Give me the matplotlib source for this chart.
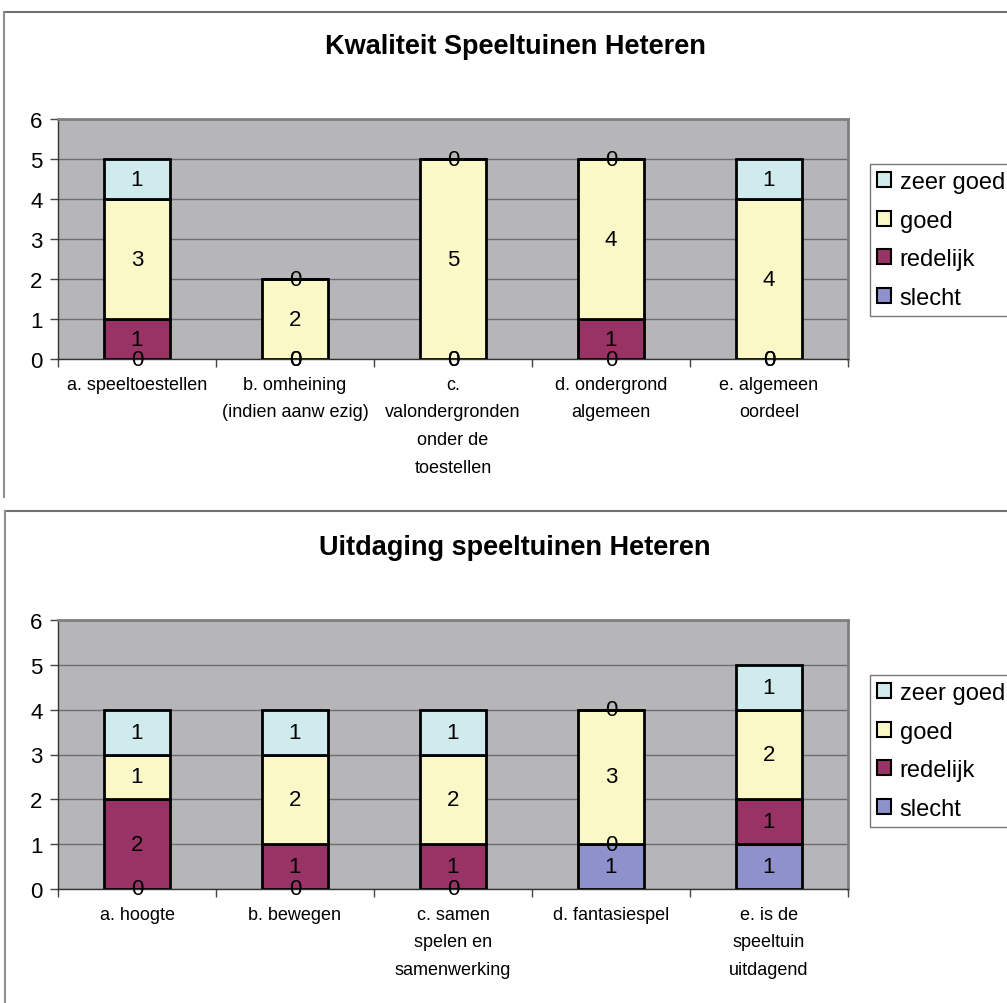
import numpy as np
import matplotlib
matplotlib.use('Agg')
import matplotlib.pyplot as plt
from matplotlib.patches import Patch
from matplotlib.lines import Line2D

plt.rcParams['font.family'] = ['Liberation Sans', 'DejaVu Sans']

series = ['slecht', 'redelijk', 'goed', 'zeer goed']
colors = ['#8E91CB', '#993366', '#FBF8C8', '#D0EBED']

title_top = 'Kwaliteit Speeltuinen Heteren'
cats_top = ['a. speeltoestellen', 'b. omheining\n(indien aanw ezig)',
            'c.\nvalondergronden\nonder de\ntoestellen',
            'd. ondergrond\nalgemeen', 'e. algemeen\noordeel']
slecht_top = [0, 0, 0, 0, 0]
redelijk_top = [1, 0, 0, 1, 0]
goed_top = [3, 2, 5, 4, 4]
zeergoed_top = [1, 0, 0, 0, 1]

title_bot = 'Uitdaging speeltuinen Heteren'
cats_bot = ['a. hoogte', 'b. bewegen', 'c. samen\nspelen en\nsamenwerking',
            'd. fantasiespel', 'e. is de\nspeeltuin\nuitdagend']
slecht_bot = [0, 0, 0, 1, 1]
redelijk_bot = [2, 1, 1, 0, 1]
goed_bot = [1, 2, 2, 3, 2]
zeergoed_bot = [1, 1, 1, 0, 1]

W, H = 1007, 1004
fig = plt.figure(figsize=(W / 100, H / 100), dpi=100)


def px_axes(left, top, right, bottom):
    return fig.add_axes([left / W, 1 - bottom / H, (right - left) / W, (bottom - top) / H])


def draw_chart(ax, cats, data, title, title_y, legend_top):
    x = np.arange(len(cats))
    bottom = np.zeros(len(cats))
    for name, vals, col in zip(series, data, colors):
        vals = np.array(vals, dtype=float)
        ax.bar(x, vals, 0.42, bottom=bottom, color=col, edgecolor='black',
               linewidth=2, zorder=3)
        for xi, b, v in zip(x, bottom, vals):
            ax.text(xi, b + v / 2, '%d' % v, ha='center', va='center',
                    fontsize=16, zorder=5, clip_on=False)
        bottom += vals
    ax.set_facecolor('#B6B6B8')
    ax.set_xlim(-0.5, len(cats) - 0.5)
    ax.set_ylim(0, 6)
    ax.set_yticks(range(7))
    ax.tick_params(axis='y', labelsize=16, length=6, width=1, pad=5, color='#444444')
    ax.set_xticks(x)
    ax.set_xticklabels(cats, fontsize=13, linespacing=1.82, va='top')
    ax.tick_params(axis='x', which='major', length=0, pad=12)
    ax.set_xticks(np.arange(-0.5, len(cats), 1.0), minor=True)
    ax.tick_params(axis='x', which='minor', length=6, width=1, color='#444444')
    ax.yaxis.grid(True, color='#6E6E6E', linewidth=1, zorder=0)
    ax.set_axisbelow(True)
    for s in ['top', 'right']:
        ax.spines[s].set_color('#808080')
        ax.spines[s].set_linewidth(2)
    for s in ['left', 'bottom']:
        ax.spines[s].set_color('#333333')
        ax.spines[s].set_linewidth(1)
    fig.text(515 / W, 1 - title_y / H, title, ha='center', va='center',
             fontsize=19.5, fontweight='bold')
    handles = [Patch(facecolor=c, edgecolor='black', linewidth=1.5)
               for c in colors[::-1]]
    leg = fig.legend(handles, series[::-1], loc='upper left',
                     bbox_to_anchor=(870 / W, 1 - legend_top / H),
                     fontsize=17, frameon=True, fancybox=False,
                     handlelength=0.6, handleheight=0.6, handletextpad=0.35,
                     labelspacing=0.7, borderpad=0.3, borderaxespad=0)
    leg.get_frame().set_edgecolor('#555555')
    leg.get_frame().set_linewidth(1)


ax1 = px_axes(58, 120, 848, 360)
draw_chart(ax1, cats_top, [slecht_top, redelijk_top, goed_top, zeergoed_top],
           title_top, 47, 165)

ax2 = px_axes(58, 621, 848, 890)
draw_chart(ax2, cats_bot, [slecht_bot, redelijk_bot, goed_bot, zeergoed_bot],
           title_bot, 548, 676)

# outer chart frames (cropped in the original)
for (x0, y0, y1) in [(4, 13, 498), (5, 512, 1004)]:
    fig.add_artist(Line2D([x0 / W, 1], [1 - y0 / H, 1 - y0 / H], color='#707070', lw=1.5))
    fig.add_artist(Line2D([x0 / W, x0 / W], [1 - y0 / H, 1 - y1 / H], color='#909090', lw=1.5))

fig.savefig('out.png', dpi=100)
